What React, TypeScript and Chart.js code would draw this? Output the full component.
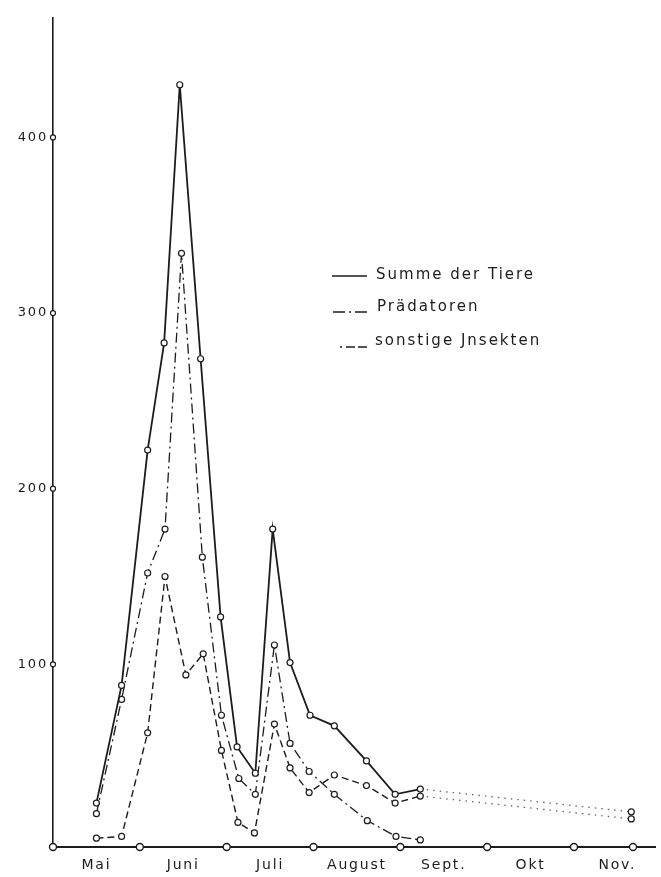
import React, { useEffect, useRef } from 'react';
import { Chart, registerables } from 'chart.js';

Chart.register(...registerables);

// x positions are expressed in months counted from 1 May (0 = 1 May, 1 = 1 June, ...)
const monthLabels = ['Mai', 'Juni', 'Juli', 'August', 'Sept.', 'Okt', 'Nov.'];
const monthLabelPositions = [0.5, 1.5, 2.5, 3.5, 4.5, 5.5, 6.5];
const monthMarks = [0, 1, 2, 3, 4, 5, 6, 6.68];
const yTickValues = [100, 200, 300, 400];

const summeDates = [0.5, 0.79, 1.09, 1.28, 1.46, 1.7, 1.93, 2.12, 2.33, 2.53, 2.73, 2.96, 3.24, 3.61, 3.94, 4.23, 6.66];
const summeValues = [21, 88, 222, 283, 430, 274, 127, 53, 38, 177, 101, 71, 65, 45, 26, 29, 16];

const praedDates = [0.5, 0.79, 1.09, 1.29, 1.48, 1.72, 1.94, 2.14, 2.33, 2.55, 2.73, 2.95, 3.24, 3.62, 3.95, 4.23];
const praedValues = [15, 80, 152, 177, 334, 161, 71, 35, 26, 111, 55, 39, 26, 11, 2, 0];

const sonstDates = [0.5, 0.79, 1.09, 1.29, 1.53, 1.73, 1.94, 2.13, 2.32, 2.55, 2.73, 2.95, 3.24, 3.61, 3.94, 4.23, 6.66];
const sonstValues = [1, 2, 61, 150, 94, 106, 51, 10, 4, 66, 41, 27, 37, 31, 21, 25, 12];

const legendLabels = ['Summe der Tiere', 'Prädatoren', 'sonstige Jnsekten'];

const INK = '#1c1c1c';
const FONT = '"DejaVu Sans", sans-serif';

const toPoints = (xs: number[], ys: number[]) => xs.map((x, i) => ({ x, y: ys[i] }));

const spacingPlugin = {
  id: 'letterSpacing',
  beforeLayout(chart: any) {
    chart.ctx.letterSpacing = '1.8px';
  },
  beforeDraw(chart: any) {
    chart.ctx.letterSpacing = '1.8px';
  },
};

const legendPlugin = {
  id: 'handLegend',
  afterDraw(chart: any) {
    const ctx = chart.ctx as CanvasRenderingContext2D;
    ctx.save();
    ctx.strokeStyle = INK;
    ctx.fillStyle = INK;
    ctx.lineWidth = 1.5;
    const rows = [
      { y: 276, dash: [] as number[], x0: 332, x1: 367 },
      { y: 312, dash: [12, 4, 2, 4, 12, 100], x0: 333, x1: 368 },
      { y: 347, dash: [2, 4, 9, 3, 9, 100], x0: 340, x1: 368 },
    ];
    rows.forEach((r) => {
      ctx.beginPath();
      ctx.setLineDash(r.dash);
      ctx.moveTo(r.x0, r.y);
      ctx.lineTo(r.x1, r.y);
      ctx.stroke();
    });
    ctx.setLineDash([]);
    (ctx as any).letterSpacing = '2px';
    ctx.font = `15px ${FONT}`;
    ctx.textBaseline = 'middle';
    ctx.textAlign = 'left';
    ctx.fillText(legendLabels[0], 376, 275);
    ctx.fillText(legendLabels[1], 377, 307);
    ctx.fillText(legendLabels[2], 375, 341);
    ctx.restore();
  },
};

export default function App() {
  const ref = useRef<HTMLCanvasElement | null>(null);

  useEffect(() => {
    document.body.style.margin = '0';
    const canvas = ref.current;
    if (!canvas) return;
    const lastSeg = (n: number) => (c: any) => (c.p1DataIndex === n - 1 ? [1.5, 5] : undefined);
    const lastSegColor = (n: number) => (c: any) => (c.p1DataIndex === n - 1 ? '#666' : undefined);
    const lastSegWidth = (n: number, w: number) => (c: any) => (c.p1DataIndex === n - 1 ? 1.3 : w);

    const pointStyle = {
      pointRadius: 3,
      pointHoverRadius: 3,
      pointBackgroundColor: '#fff',
      pointBorderColor: INK,
      pointBorderWidth: 1.2,
    };

    const chart = new Chart(canvas, {
      type: 'scatter',
      data: {
        datasets: [
          {
            label: 'Monatsmarken',
            data: monthMarks.map((x) => ({ x, y: -4 })),
            showLine: false,
            pointRadius: 3.5,
            pointBackgroundColor: '#fff',
            pointBorderColor: INK,
            pointBorderWidth: 1.4,
            clip: false,
          } as any,
          {
            label: 'Achsenmarken',
            data: yTickValues.map((y) => ({ x: 0, y })),
            showLine: false,
            pointRadius: 2.5,
            pointBackgroundColor: '#fff',
            pointBorderColor: INK,
            pointBorderWidth: 1.2,
            clip: false,
          } as any,
          {
            label: legendLabels[0],
            data: toPoints(summeDates, summeValues),
            showLine: true,
            borderColor: INK,
            borderWidth: 1.8,
            tension: 0,
            ...pointStyle,
            clip: false,
            segment: {
              borderDash: lastSeg(summeValues.length),
              borderColor: lastSegColor(summeValues.length),
              borderWidth: lastSegWidth(summeValues.length, 1.8),
            },
          } as any,
          {
            label: legendLabels[1],
            data: toPoints(praedDates, praedValues),
            showLine: true,
            borderColor: INK,
            borderWidth: 1.3,
            borderDash: [10, 4, 2, 4],
            tension: 0,
            ...pointStyle,
            clip: false,
          } as any,
          {
            label: legendLabels[2],
            data: toPoints(sonstDates, sonstValues),
            showLine: true,
            borderColor: INK,
            borderWidth: 1.4,
            borderDash: [7, 4],
            tension: 0,
            ...pointStyle,
            clip: false,
            segment: {
              borderDash: lastSeg(sonstValues.length),
              borderColor: lastSegColor(sonstValues.length),
              borderWidth: lastSegWidth(sonstValues.length, 1.4),
            },
          } as any,
        ],
      },
      options: {
        responsive: false,
        animation: false,
        events: [],
        layout: { padding: { top: 18, right: 0, left: 0, bottom: 0 } },
        plugins: {
          legend: { display: false },
          tooltip: { enabled: false },
          title: { display: false },
        },
        scales: {
          x: {
            type: 'linear',
            min: 0,
            max: 6.94,
            grid: { display: false, drawTicks: false },
            border: { display: true, color: INK, width: 2 },
            afterBuildTicks: (s: any) => {
              s.ticks = monthLabelPositions.map((v) => ({ value: v }));
            },
            afterFit: (s: any) => {
              s.height = 30;
            },
            ticks: {
              autoSkip: false,
              maxRotation: 0,
              padding: 10,
              color: INK,
              font: { family: FONT, size: 14 },
              callback: (_v: any, i: number) => monthLabels[i],
            },
          },
          y: {
            type: 'linear',
            min: -4,
            max: 468,
            grid: { display: false, drawTicks: false },
            border: { display: true, color: INK, width: 1.6 },
            afterBuildTicks: (s: any) => {
              s.ticks = yTickValues.map((v) => ({ value: v }));
            },
            afterFit: (s: any) => {
              s.width = 53;
            },
            ticks: {
              padding: 5,
              color: INK,
              font: { family: FONT, size: 13 },
              callback: (v: any) => String(v),
            },
          },
        },
      } as any,
      plugins: [spacingPlugin, legendPlugin],
    });
    return () => chart.destroy();
  }, []);

  return (
    <div style={{ width: 661, height: 877, background: '#fff' }}>
      <canvas ref={ref} width={661} height={877} style={{ display: 'block' }} />
    </div>
  );
}
